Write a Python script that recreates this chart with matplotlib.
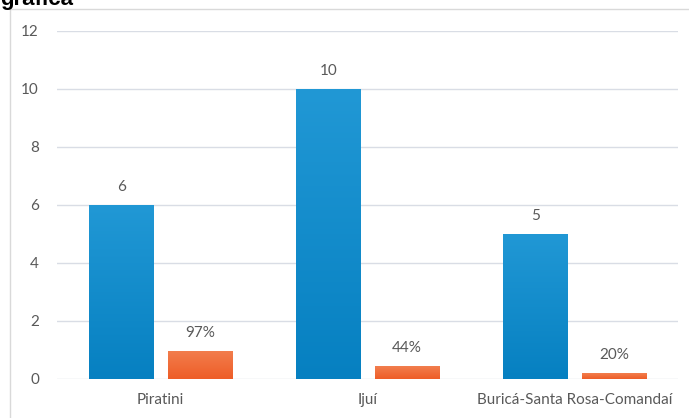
import numpy as np
import matplotlib
matplotlib.use("Agg")
import matplotlib.pyplot as plt
from matplotlib.colors import LinearSegmentedColormap

plt.rcParams["font.family"] = ["Lato", "DejaVu Sans"]

# data
categories = ["Piratini", "Ijuí", "Buricá-Santa Rosa-Comandaí"]
count_vals = [6, 10, 5]
share_vals = [0.97, 0.44, 0.20]
share_labels = ["97%", "44%", "20%"]

BLUE_TOP, BLUE_BOT = "#2198d5", "#0680c1"
ORANGE_TOP, ORANGE_BOT = "#f27e4e", "#ee5d27"
TXT = "#595959"
GRID = "#d9dde5"

fig = plt.figure(figsize=(6.89, 4.18), dpi=100)
ax = fig.add_axes([57/689, 1 - 379/418, (678 - 57)/689, (379 - 31)/418])

x = np.arange(len(categories))
w = 0.31
off = 0.19


def gradient_bars(bars, top, bot):
    cmap = LinearSegmentedColormap.from_list("g", [bot, top])
    grad = np.linspace(0, 1, 256).reshape(-1, 1)
    for b in bars:
        x0, h, bw = b.get_x(), b.get_height(), b.get_width()
        im = ax.imshow(grad, cmap=cmap, origin="lower", aspect="auto",
                       extent=(x0, x0 + bw, 0, h), zorder=3)
        im.set_clip_path(b)


b1 = ax.bar(x - off, count_vals, w, color=BLUE_BOT, zorder=2, linewidth=0)
b2 = ax.bar(x + off, share_vals, w, color=ORANGE_BOT, zorder=2, linewidth=0)
gradient_bars(b1, BLUE_TOP, BLUE_BOT)
gradient_bars(b2, ORANGE_TOP, ORANGE_BOT)

for xi, v in zip(x - off, count_vals):
    ax.annotate(str(v), (xi, v), xytext=(0, 13), textcoords="offset points",
                ha="center", va="center", fontsize=11, color=TXT)
for xi, v, lab in zip(x + off, share_vals, share_labels):
    ax.annotate(lab, (xi, v), xytext=(0, 13), textcoords="offset points",
                ha="center", va="center", fontsize=11, color=TXT)

ax.set_xlim(-0.5, 2.5)
ax.set_ylim(0, 12)
ax.set_yticks(range(0, 13, 2))
ax.set_xticks(x)
ax.set_xticklabels(categories)
ax.yaxis.grid(True, color=GRID, linewidth=1, zorder=0)
ax.set_axisbelow(True)
for s in ax.spines.values():
    s.set_visible(False)
ax.tick_params(axis="both", length=0, labelsize=11, colors=TXT)
ax.tick_params(axis="y", pad=13)
ax.tick_params(axis="x", pad=10)

# chart frame lines and cut-off title
fig.add_artist(plt.Line2D([10/689, 1], [1 - 9/418, 1 - 9/418], color="#d9d9d9", lw=1))
fig.add_artist(plt.Line2D([10/689, 10/689], [0, 1 - 9/418], color="#d9d9d9", lw=1))
fig.text(0.0, 1 - 5/418, "gráfica", fontsize=16, fontweight="bold",
         family=["Liberation Sans", "DejaVu Sans"], color="black", va="baseline")

fig.savefig("out.png", dpi=100)
